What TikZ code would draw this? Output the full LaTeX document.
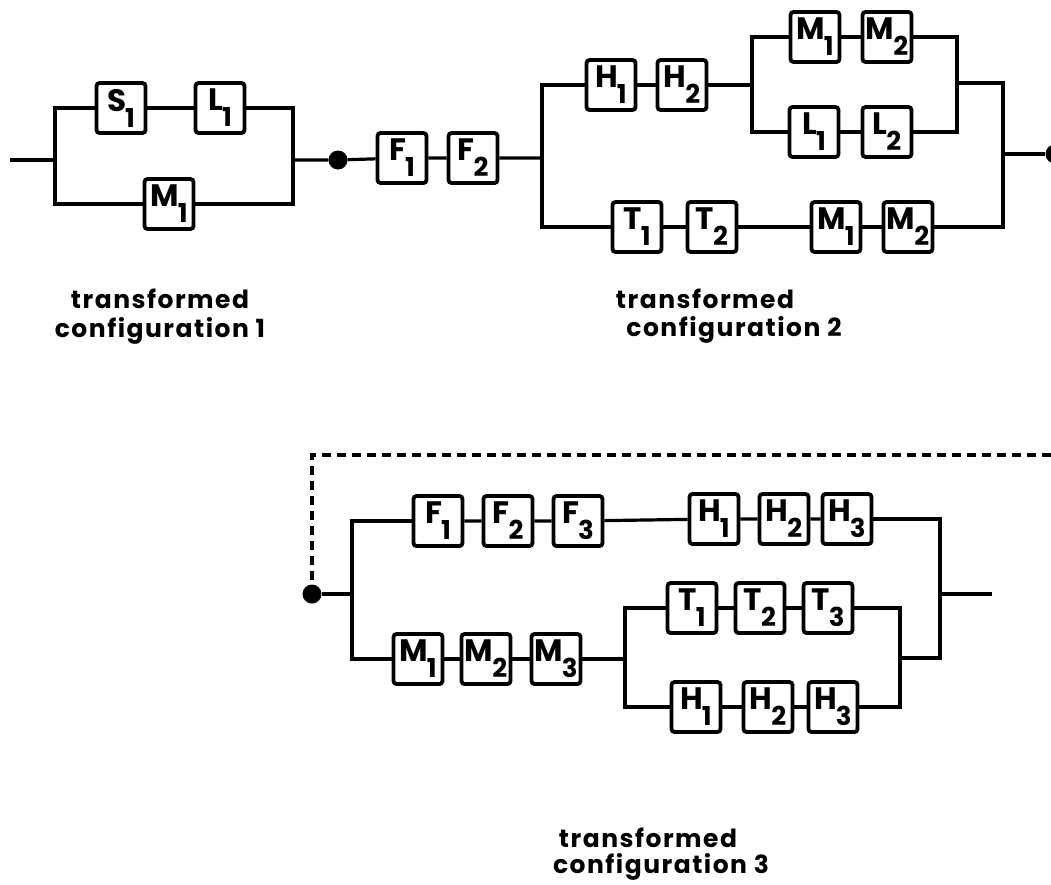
\documentclass[tikz,border=0pt]{standalone}
\usepackage{fontspec}
\setmainfont{Poppins}
\newfontfamily\capfont[LetterSpace=6]{Poppins}
\newcommand{\lab}[2]{\raisebox{3pt}{\fontsize{31}{31}\selectfont #1}\kern-1pt\raisebox{-13pt}{\fontsize{26}{26}\selectfont #2}}
\begin{document}
\begin{tikzpicture}[x=1pt,y=-1pt,
  blk/.style={draw,line width=3.8pt,rounded corners=3pt,minimum width=49pt,minimum height=50pt,inner sep=0pt,font=\bfseries},
  wire/.style={line width=3.2pt},
  dashwire/.style={line width=3.8pt,dash pattern=on 9pt off 6pt},
  dot/.style={circle,fill,inner sep=0pt,minimum size=19pt},
  captxt/.style={font=\capfont\bfseries\fontsize{25}{25}\selectfont,inner sep=0pt}]
\useasboundingbox (0,0) rectangle (1051,884);
\clip (0,0) rectangle (1051,884);

% ---------- configuration 1 ----------
\node[blk] (S1) at (121,108) {\lab{S}{1}};
\node[blk] (L1) at (220,108) {\lab{L}{1}};
\node[blk] (M1) at (169,204) {\lab{M}{1}};
\coordinate (c1in) at (10,160);
\coordinate (c1L) at (55,160);
\coordinate (c1R) at (293,160);
\draw[wire] (c1in) -- (c1L);
\draw[wire] (S1) -| (c1L) |- (M1);
\draw[wire] (S1) -- (L1);
\draw[wire] (L1) -| (c1R) |- (M1);

\node[dot] (d1) at (338,160) {};
\node[blk] (F1) at (402,158) {\lab{F}{1}};
\node[blk] (F2) at (473,158) {\lab{F}{2}};
\coordinate (c2L) at (542,158);
\draw[wire] (c1R) -- (d1) -- (F1) -- (F2) -- (c2L);

% ---------- configuration 2 ----------
\node[blk] (H1) at (611,85) {\lab{H}{1}};
\node[blk] (H2) at (682,85) {\lab{H}{2}};
\node[blk] (M1a) at (815,37) {\lab{M}{1}};
\node[blk] (M2a) at (887,37) {\lab{M}{2}};
\node[blk] (L1a) at (814,132) {\lab{L}{1}};
\node[blk] (L2a) at (887,132) {\lab{L}{2}};
\node[blk] (T1) at (637,227) {\lab{T}{1}};
\node[blk] (T2) at (712,227) {\lab{T}{2}};
\node[blk] (M1b) at (836,227) {\lab{M}{1}};
\node[blk] (M2b) at (908,227) {\lab{M}{2}};
\coordinate (c2s) at (752,85);
\coordinate (c2r) at (957,83);
\coordinate (c2R) at (1003,154);
\node[dot] (d2) at (1055,154) {};
\draw[wire] (H1) -| (c2L) |- (T1);
\draw[wire] (H1) -- (H2) -- (c2s);
\draw[wire] (M1a) -| (c2s) |- (L1a);
\draw[wire] (M1a) -- (M2a);
\draw[wire] (L1a) -- (L2a);
\draw[wire] (M2a) -| (c2r) |- (L2a);
\draw[wire] (c2r) -| (c2R) |- (M2b);
\draw[wire] (M2b) -- (M1b) -- (T2) -- (T1);
\draw[wire] (c2R) -- (d2);

% ---------- configuration 3 ----------
\coordinate (dashR) at (1051,455);
\node[dot] (d3) at (312,594) {};
\draw[dashwire] (dashR) -| (d3);
\coordinate (c3L) at (352,594);
\node[blk] (F1c) at (438,521) {\lab{F}{1}};
\node[blk] (F2c) at (508,521) {\lab{F}{2}};
\node[blk] (F3c) at (578,521) {\lab{F}{3}};
\node[blk] (H1c) at (714,519) {\lab{H}{1}};
\node[blk] (H2c) at (784,519) {\lab{H}{2}};
\node[blk] (H3c) at (847,519) {\lab{H}{3}};
\node[blk] (M1c) at (418,659) {\lab{M}{1}};
\node[blk] (M2c) at (486,659) {\lab{M}{2}};
\node[blk] (M3c) at (556,659) {\lab{M}{3}};
\node[blk] (T1c) at (692,608) {\lab{T}{1}};
\node[blk] (T2c) at (760,608) {\lab{T}{2}};
\node[blk] (T3c) at (828,608) {\lab{T}{3}};
\node[blk] (H1d) at (696,707) {\lab{H}{1}};
\node[blk] (H2d) at (768,707) {\lab{H}{2}};
\node[blk] (H3d) at (833,707) {\lab{H}{3}};
\coordinate (c3s) at (625,659);
\coordinate (c3r) at (900,658);
\coordinate (c3R) at (940,594);
\coordinate (c3out) at (992,594);
\draw[wire] (d3) -- (c3L);
\draw[wire] (F1c) -| (c3L) |- (M1c);
\draw[wire] (F1c) -- (F2c) -- (F3c) -- (H1c) -- (H2c) -- (H3c);
\draw[wire] (H3c) -| (c3R) |- (c3r);
\draw[wire] (c3R) -- (c3out);
\draw[wire] (M1c) -- (M2c) -- (M3c) -- (c3s);
\draw[wire] (T1c) -| (c3s) |- (H1d);
\draw[wire] (T1c) -- (T2c) -- (T3c);
\draw[wire] (H1d) -- (H2d) -- (H3d);
\draw[wire] (T3c) -| (c3r) |- (H3d);

% ---------- captions ----------
\node[captxt] (k1a) at (160,299) {transformed};
\node[captxt] (k1b) at (160,331) {configuration 1};
\node[captxt] (k2a) at (705,299) {transformed};
\node[captxt] (k2b) at (734,330) {configuration 2};
\node[captxt] (k3a) at (648,838) {transformed};
\node[captxt] (k3b) at (661,867) {configuration 3};
\end{tikzpicture}
\end{document}
